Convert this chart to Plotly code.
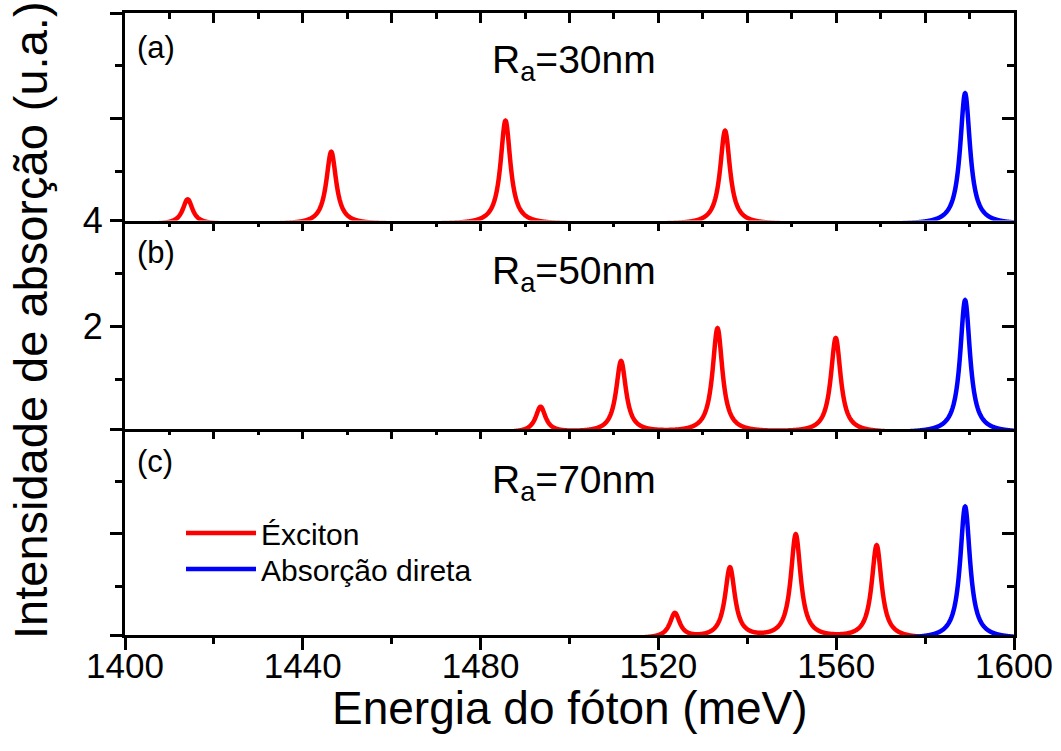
import numpy as np
import plotly.graph_objects as go

# ---------------- data ----------------
x_min, x_max = 1400, 1600
panel_labels = ["(a)", "(b)", "(c)"]
radius_labels = ["R<sub>a</sub>=30nm", "R<sub>a</sub>=50nm", "R<sub>a</sub>=70nm"]

# exciton peak centres (meV) and heights (u.a.) per panel
exc_centers_a = [1414.1, 1446.4, 1485.6, 1535.0]
exc_heights_a = [0.47, 1.37, 1.96, 1.77]
exc_centers_b = [1493.5, 1511.6, 1533.3, 1559.9]
exc_heights_b = [0.48, 1.34, 1.96, 1.78]
exc_centers_c = [1523.7, 1536.1, 1550.9, 1569.1]
exc_heights_c = [0.47, 1.34, 1.97, 1.77]

# direct absorption peak per panel
dir_centers = [1589.0, 1589.0, 1589.0]
dir_heights = [2.48, 2.50, 2.52]

peak_hwhm = 1.35         # half width of the Lorentzian lines (meV)
exc_span = (1400, 1580)  # energy span of the exciton curve
dir_span = (1575, 1600)  # energy span of the direct-absorption curve

xticks_major = [1400, 1440, 1480, 1520, 1560, 1600]
yticks_labeled = [2, 4]

# ---------------- helpers ----------------
def lorentz_sum(e, centers, heights, g):
    y = np.zeros_like(e)
    for c, h in zip(centers, heights):
        y += h * g**2 / ((e - c) ** 2 + g**2)
    return y

FONT = "Liberation Sans, Arial, sans-serif"
RED = "#ff0000"
BLUE = "#0000ff"
LW = 4.5
AXW = 2.8

fig = go.Figure()

panels = [
    ("x3", "y3", exc_centers_a, exc_heights_a, 0),
    ("x2", "y2", exc_centers_b, exc_heights_b, 1),
    ("x", "y", exc_centers_c, exc_heights_c, 2),
]
e_exc = np.arange(exc_span[0], exc_span[1] + 1e-9, 0.05)
e_dir = np.arange(dir_span[0], dir_span[1] + 1e-9, 0.05)

for xa, ya, cs, hs, i in panels:
    fig.add_trace(go.Scatter(
        x=e_exc, y=lorentz_sum(e_exc, cs, hs, peak_hwhm), mode="lines",
        line=dict(color=RED, width=LW, simplify=False), xaxis=xa, yaxis=ya,
        name="Éxciton", showlegend=(i == 2), legend="legend", hoverinfo="skip"))
    fig.add_trace(go.Scatter(
        x=e_dir, y=lorentz_sum(e_dir, [dir_centers[i]], [dir_heights[i]], peak_hwhm),
        mode="lines", line=dict(color=BLUE, width=LW, simplify=False), xaxis=xa, yaxis=ya,
        name="Absorção direta", showlegend=(i == 2), legend="legend2", hoverinfo="skip"))

# empty helper traces so that the mirrored (inside-tick) axes get drawn
for k, (xo, yo) in enumerate([("x", "y"), ("x2", "y2"), ("x3", "y3")]):
    fig.add_trace(go.Scatter(x=[None], y=[None], xaxis=f"x{4 + k}", yaxis=yo,
                             showlegend=False, hoverinfo="skip", mode="lines"))
    fig.add_trace(go.Scatter(x=[None], y=[None], xaxis=xo, yaxis=f"y{4 + k}",
                             showlegend=False, hoverinfo="skip", mode="lines"))

# ---------------- axes ----------------
H_PLOT = 622.0
dom_c = [0.0, 206 / H_PLOT]
dom_b = [206 / H_PLOT, 414.4 / H_PLOT]
dom_a = [414.4 / H_PLOT, 1.0]
YR = [0.07, 4.0]   # lower bound hides the zero baseline under the axis line
ytv = [YR[0], 2, 4]

base_x = dict(range=[x_min, x_max], showline=True, linecolor="black", linewidth=AXW,
              showgrid=False, zeroline=False, layer="above traces", automargin=False)
base_y = dict(range=YR, showline=True, linecolor="black", linewidth=AXW,
              showgrid=False, zeroline=False, layer="above traces", automargin=False)

tickfont = dict(family=FONT, size=35, color="black")
ytick_style = dict(ticks="outside", ticklen=12, tickwidth=2.5, tickcolor="black",
                   tickmode="array")
yminor = dict(minor=dict(dtick=1, tick0=0, ticks="outside", ticklen=7, tickwidth=2.5,
                         tickcolor="black", showgrid=False))

layout = dict(
    xaxis=dict(base_x, anchor="y", domain=[0, 1], ticks="outside", ticklen=12, tickwidth=2.5,
               tickcolor="black", tickmode="array", tickvals=xticks_major,
               ticktext=[str(v) for v in xticks_major], tickfont=tickfont,
               ticklabelstandoff=-14,
               minor=dict(dtick=20, tick0=1400, ticks="outside", ticklen=6, tickwidth=2.5,
                          tickcolor="black", showgrid=False)),
    xaxis2=dict(base_x, anchor="y2", matches="x", ticks="", showticklabels=False),
    xaxis3=dict(base_x, anchor="y3", matches="x", ticks="", showticklabels=False),
    yaxis=dict(base_y, domain=dom_c, anchor="x", showticklabels=False, tickvals=ytv,
               **ytick_style, **yminor),
    yaxis2=dict(base_y, domain=dom_b, anchor="x2", tickvals=yticks_labeled,
                ticktext=[str(v) for v in yticks_labeled],
                tickfont=dict(family=FONT, size=36, color="black"), **ytick_style, **yminor),
    yaxis3=dict(base_y, domain=dom_a, anchor="x3", showticklabels=False, tickvals=ytv,
                **ytick_style, **yminor),
)

# mirrored (inside) ticks: top x-axes and right y-axes
for k, (xo, yo) in enumerate([("x", "y"), ("x2", "y2"), ("x3", "y3")]):
    tx = f"xaxis{4 + k}"
    ry = f"yaxis{4 + k}"
    layout[tx] = dict(range=[x_min, x_max], overlaying=xo, anchor=yo, side="top",
                      showline=(k == 2), linecolor="black", linewidth=AXW, showgrid=False,
                      zeroline=False, ticks="inside", ticklen=10, tickwidth=2.5,
                      tickcolor="black", dtick=20, tick0=1400, showticklabels=False,
                      layer="above traces", automargin=False,
                      minor=dict(dtick=10, tick0=1400, ticks="inside", ticklen=6,
                                 tickwidth=2.5, tickcolor="black", showgrid=False))
    layout[ry] = dict(range=YR, overlaying=yo, anchor=xo, side="right",
                      showline=True, linecolor="black", linewidth=AXW, showgrid=False,
                      zeroline=False, ticks="inside", ticklen=12, tickwidth=2.5,
                      tickcolor="black", tickmode="array", tickvals=ytv,
                      showticklabels=False, layer="above traces", automargin=False,
                      minor=dict(dtick=1, tick0=0, ticks="inside", ticklen=7,
                                 tickwidth=2.5, tickcolor="black", showgrid=False))

fig.update_layout(**layout)

# ---------------- text ----------------
annots = []
lab_y = [1 - (47 - 13) / H_PLOT, 1 - (252 - 13) / H_PLOT, 1 - (461 - 13) / H_PLOT]
rad_y = [1 - (63 - 13) / H_PLOT, 1 - (273 - 13) / H_PLOT, 1 - (482 - 13) / H_PLOT]
for i in range(3):
    annots.append(dict(text=panel_labels[i], xref="paper", yref="paper",
                       x=(135 - 125) / 889, y=lab_y[i], xanchor="left", yanchor="middle",
                       showarrow=False, font=dict(family=FONT, size=31, color="black")))
    annots.append(dict(text=radius_labels[i], xref="paper", yref="paper",
                       x=(574 - 125) / 889, y=rad_y[i], xanchor="center", yanchor="middle",
                       showarrow=False, font=dict(family=FONT, size=39, color="black")))

annots.append(dict(text="Energia do fóton (meV)", xref="paper", yref="paper",
                   x=0.5, y=-(708 - 635) / H_PLOT, xanchor="center", yanchor="middle",
                   showarrow=False, font=dict(family=FONT, size=46, color="black")))
annots.append(dict(text="Intensidade de absorção (u.a.)", xref="paper", yref="paper",
                   x=(30 - 125) / 889, y=1 - (320 - 13) / H_PLOT, xanchor="center",
                   yanchor="middle", textangle=-90, showarrow=False,
                   font=dict(family=FONT, size=47, color="black")))

leg_common = dict(xanchor="left", yanchor="top", bgcolor="rgba(0,0,0,0)", borderwidth=0,
                  itemwidth=70, font=dict(family=FONT, size=30, color="black"))
fig.update_layout(
    width=1061, height=751,
    margin=dict(l=125, r=47, t=13, b=116, autoexpand=False),
    paper_bgcolor="white", plot_bgcolor="white",
    annotations=annots,
    showlegend=True,
    legend=dict(leg_common, x=(181 - 125) / 889, y=1 - (507 - 13) / H_PLOT),
    legend2=dict(leg_common, x=(181 - 125) / 889, y=1 - (543 - 13) / H_PLOT),
)

fig.write_html("out.html")
